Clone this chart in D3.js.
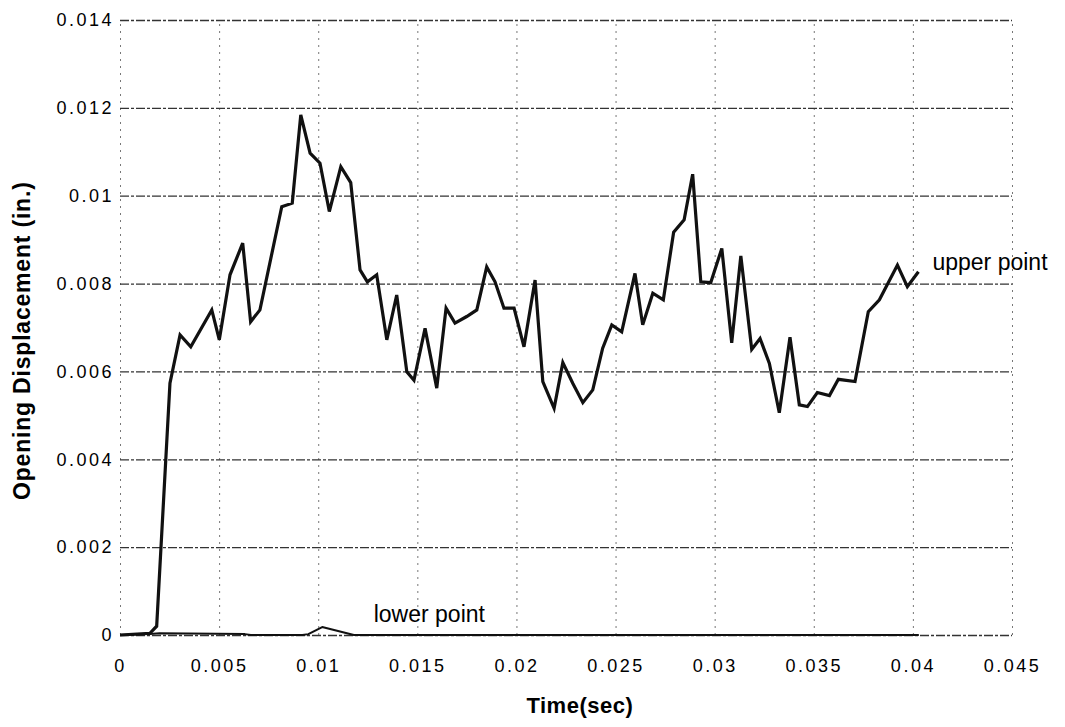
<!DOCTYPE html>
<html>
<head>
<meta charset="utf-8">
<script src="https://cdn.jsdelivr.net/npm/d3@7"></script>
<style>
  body { margin: 0; background: #fff; }
  svg { display: block; font-family: "Liberation Sans", Arial, sans-serif; }
</style>
</head>
<body>
<div id="chart"></div>
<script>
// upper point series (time in sec, opening displacement in in.)
const upperTime = [
  0, 0.00151, 0.00185, 0.00252, 0.00303, 0.00357, 0.00463, 0.00501, 0.00555, 0.00619,
  0.00659, 0.00706, 0.00816, 0.00869, 0.00912, 0.00959, 0.01009, 0.01056, 0.01114, 0.01164,
  0.01211, 0.01248, 0.01295, 0.01346, 0.01396, 0.01447, 0.01483, 0.01539, 0.01598, 0.01645,
  0.0169, 0.01749, 0.018, 0.0185, 0.01892, 0.01937, 0.01988, 0.02038, 0.02094, 0.02133,
  0.0219, 0.02234, 0.02284, 0.02335, 0.02385, 0.02435, 0.02481, 0.02531, 0.02598, 0.02637,
  0.02688, 0.02741, 0.02793, 0.02846, 0.02889, 0.0293, 0.0298, 0.03036, 0.03086, 0.03132,
  0.03187, 0.03229, 0.03276, 0.03326, 0.0338, 0.03427, 0.03468, 0.03518, 0.03579, 0.03624,
  0.03708, 0.03775, 0.03831, 0.03922, 0.03972, 0.04028
];
const upperPoint = [
  0, 0.00004, 0.0002, 0.00573, 0.00683, 0.00656, 0.0074, 0.00672, 0.0082, 0.00892,
  0.00713, 0.0074, 0.00975, 0.00983, 0.01184, 0.01097, 0.01074, 0.00964, 0.01066, 0.0103,
  0.00831, 0.00804, 0.0082, 0.00672, 0.00774, 0.00599, 0.0058, 0.00698, 0.00562, 0.00744,
  0.0071, 0.00725, 0.0074, 0.00838, 0.00804, 0.00744, 0.00744, 0.00656, 0.00808, 0.00577,
  0.00516, 0.0062, 0.00573, 0.00529, 0.00558, 0.00653, 0.00706, 0.0069, 0.00823, 0.00706,
  0.00778, 0.00763, 0.00917, 0.00945, 0.01049, 0.00804, 0.00802, 0.0088, 0.00665, 0.00863,
  0.0065, 0.00675, 0.00618, 0.00506, 0.00678, 0.00524, 0.0052, 0.00552, 0.00545, 0.00582,
  0.00577, 0.00736, 0.00763, 0.00842, 0.00793, 0.00827
];

// lower point series
const lowerTime = [0, 0.0015, 0.002, 0.0063, 0.0066, 0.0092, 0.0095, 0.0102, 0.0118, 0.0403];
const lowerPoint = [0, 0.00002, 0.00004, 0.00002, 0, 0, 0.00002, 0.00018, 0, 0];

const xTicks = [0, 0.005, 0.01, 0.015, 0.02, 0.025, 0.03, 0.035, 0.04, 0.045];
const xTickLabels = ["0", "0.005", "0.01", "0.015", "0.02", "0.025", "0.03", "0.035", "0.04", "0.045"];
const yTicks = [0, 0.002, 0.004, 0.006, 0.008, 0.01, 0.012, 0.014];
const yTickLabels = ["0", "0.002", "0.004", "0.006", "0.008", "0.01", "0.012", "0.014"];

const width = 1065;
const height = 727;
const margin = { top: 20, right: 53, bottom: 92, left: 120 };
const innerWidth = width - margin.left - margin.right;
const innerHeight = height - margin.top - margin.bottom;

const svg = d3.select("#chart")
  .append("svg")
  .attr("width", width)
  .attr("height", height);

const chart = svg.append("g")
  .attr("transform", `translate(${margin.left}, ${margin.top})`);

const x = d3.scaleLinear().domain([0, 0.045]).range([0, innerWidth]);
const y = d3.scaleLinear().domain([0, 0.014]).range([innerHeight, 0]);

// vertical grid (light dotted)
chart.append("g")
  .attr("transform", `translate(0, ${innerHeight})`)
  .call(d3.axisBottom(x).tickValues(xTicks).tickSize(-innerHeight))
  .call((g) => g.select(".domain").remove())
  .call((g) => g.selectAll("text").remove())
  .call((g) => g.selectAll("line")
    .attr("stroke", "#777")
    .attr("stroke-width", 1)
    .attr("stroke-dasharray", "2 5"));

// horizontal grid (darker dash)
chart.append("g")
  .call(d3.axisLeft(y).tickValues(yTicks).tickSize(-innerWidth))
  .call((g) => g.select(".domain").remove())
  .call((g) => g.selectAll("text").remove())
  .call((g) => g.selectAll("line")
    .attr("stroke", "#333")
    .attr("stroke-width", 1.3)
    .attr("stroke-dasharray", "9 2 3 2"));

// y tick labels
chart.append("g")
  .call(d3.axisLeft(y).tickValues(yTicks).tickSize(0).tickPadding(6)
    .tickFormat((d, i) => yTickLabels[i]))
  .call((g) => g.select(".domain").remove())
  .call((g) => g.selectAll("line").remove())
  .call((g) => g.selectAll("text")
    .attr("fill", "#000")
    .attr("font-size", 18)
    .attr("letter-spacing", "2.5px")
    .attr("font-family", "Liberation Sans, Arial, sans-serif"));

// x tick labels
chart.append("g")
  .attr("transform", `translate(0, ${innerHeight})`)
  .call(d3.axisBottom(x).tickValues(xTicks).tickSize(0).tickPadding(24)
    .tickFormat((d, i) => xTickLabels[i]))
  .call((g) => g.select(".domain").remove())
  .call((g) => g.selectAll("line").remove())
  .call((g) => g.selectAll("text")
    .attr("fill", "#000")
    .attr("font-size", 18)
    .attr("letter-spacing", "2.5px")
    .attr("font-family", "Liberation Sans, Arial, sans-serif"));

const line = d3.line()
  .x((d) => x(d[0]))
  .y((d) => y(d[1]));

const lowerData = lowerTime.map((t, i) => [t, lowerPoint[i]]);
const upperData = upperTime.map((t, i) => [t, upperPoint[i]]);

chart.append("path")
  .datum(lowerData)
  .attr("fill", "none")
  .attr("stroke", "#111")
  .attr("stroke-width", 2)
  .attr("stroke-linejoin", "round")
  .attr("d", line);

chart.append("path")
  .datum(upperData)
  .attr("fill", "none")
  .attr("stroke", "#111")
  .attr("stroke-width", 3.2)
  .attr("stroke-linejoin", "miter")
  .attr("d", line);

// series labels
const lastUpper = upperData[upperData.length - 1];
chart.append("text")
  .attr("x", x(lastUpper[0]) + 14)
  .attr("y", y(lastUpper[1]) - 2)
  .attr("font-size", 23)
  .attr("fill", "#000")
  .text("upper point");

chart.append("text")
  .attr("x", x(0.0128))
  .attr("y", y(0) - 13)
  .attr("font-size", 23)
  .attr("fill", "#000")
  .text("lower point");

// axis titles
svg.append("text")
  .attr("x", margin.left + x(0.0232))
  .attr("y", 713)
  .attr("text-anchor", "middle")
  .attr("font-size", 22)
  .attr("font-weight", "bold")
  .attr("letter-spacing", "0.5px")
  .text("Time(sec)");

svg.append("text")
  .attr("transform", `translate(30, ${margin.top + y(0.0067)}) rotate(-90)`)
  .attr("text-anchor", "middle")
  .attr("font-size", 23)
  .attr("font-weight", "bold")
  .attr("letter-spacing", "0.8px")
  .text("Opening Displacement (in.)");
</script>
</body>
</html>
